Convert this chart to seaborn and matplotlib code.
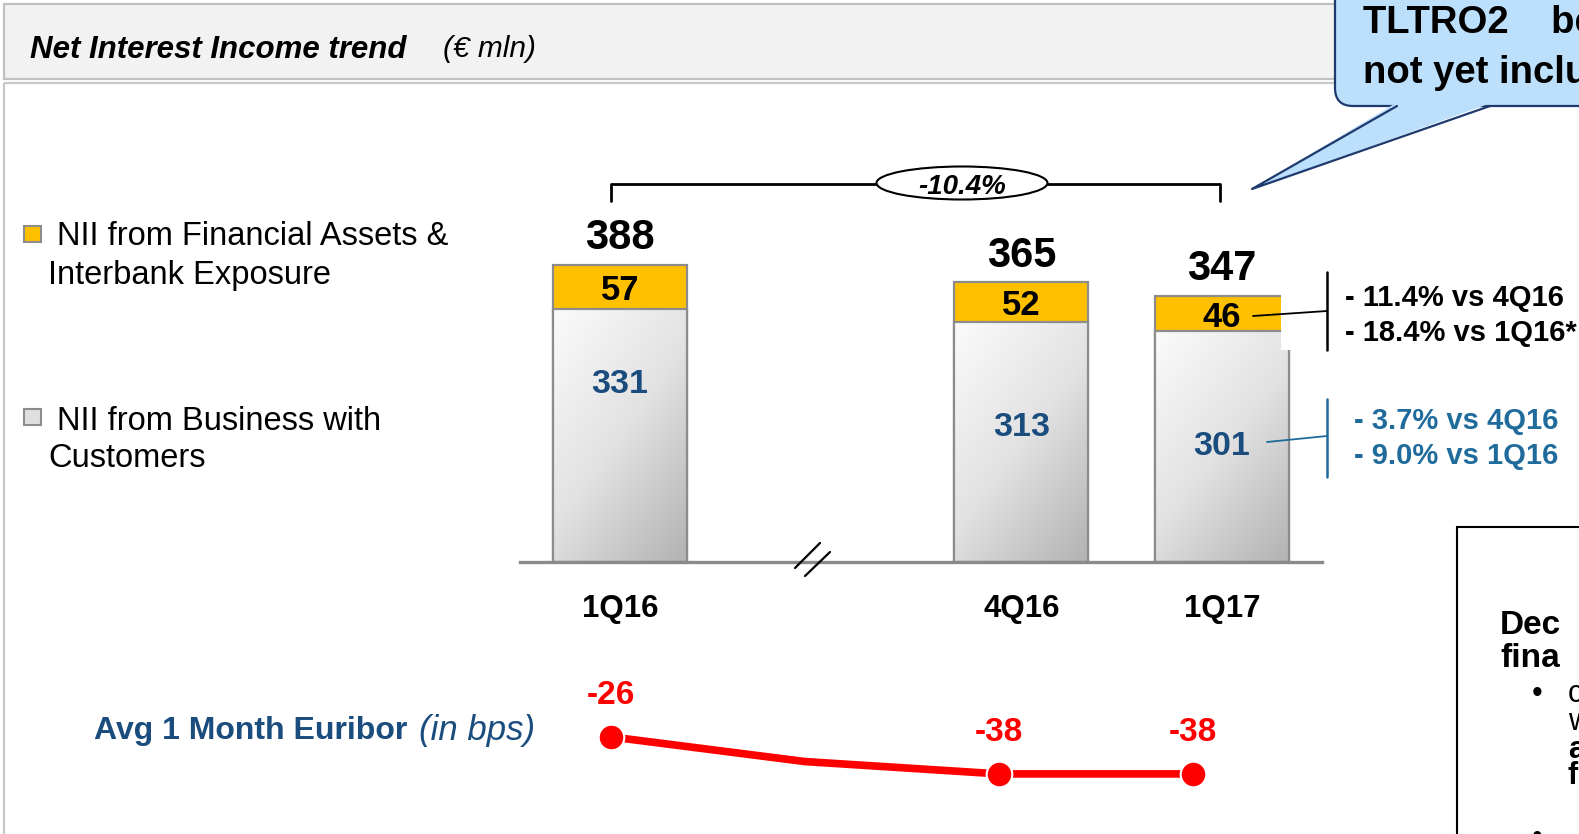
import matplotlib
matplotlib.use("Agg")
import matplotlib.pyplot as plt
from matplotlib.patches import Rectangle, FancyBboxPatch, Ellipse, Polygon
from matplotlib.colors import LinearSegmentedColormap
import numpy as np
import pandas as pd
import seaborn as sns

# bar data (EUR mln)
quarters = ["1Q16", "4Q16", "1Q17"]
quarter_pos = [0, 2, 3]          # 2Q16 / 3Q16 skipped -> gap
nii_financial = [57, 52, 46]
nii_customers = [331, 313, 301]
nii_total = [388, 365, 347]

# avg 1M euribor (bps), middle point has no label
euribor_pos = [0, 1, 2, 3]
euribor_bps = [-26, -34, -38, -38]
euribor_labels = ["-26", "", "-38", "-38"]

total_change = "-10.4%"
fin_changes = ["- 11.4% vs 4Q16", "- 18.4% vs 1Q16*"]
cust_changes = ["- 3.7% vs 4Q16", "- 9.0% vs 1Q16"]

# layout / style
W, H = 1579, 834
YELLOW = "#ffc000"
EDGE = "#8c8c8c"
NAVY = "#1a4c7e"
TEAL = "#1f6c9c"
RED = "#ff0000"
cust_label_y = [236, 180, 155]   # where the inner labels sit inside the grey bars

sns.set_style("white")
plt.rcParams["font.family"] = ["Liberation Sans", "DejaVu Sans"]
plt.rcParams["text.color"] = "black"
plt.rcParams["xtick.labelcolor"] = "black"

fig = plt.figure(figsize=(W / 100, H / 100), dpi=100)


def px_rect(x0, y0, x1, y1):
    # pixel box (origin top-left) -> figure fraction rect
    return [x0 / W, 1 - y1 / H, (x1 - x0) / W, (y1 - y0) / H]


df = pd.DataFrame({"quarter": quarters, "pos": quarter_pos,
                   "financial": nii_financial, "customers": nii_customers,
                   "total": nii_total})

#bars
ax = fig.add_axes(px_rect(520, 150, 1322, 562))
ax.set_facecolor("none")
sns.barplot(data=df, x="pos", y="total", native_scale=True, width=0.668,
            color=YELLOW, saturation=1, edgecolor=EDGE, linewidth=1.6,
            errorbar=None, ax=ax)
sns.barplot(data=df, x="pos", y="customers", native_scale=True, width=0.668,
            color="white", saturation=1, edgecolor=EDGE, linewidth=1.6,
            errorbar=None, ax=ax)

# grey gradient inside the customer bars
grad_cmap = LinearSegmentedColormap.from_list("g", ["#fbfbfb", "#e2e2e2", "#b2b2b2"])
n = 200
ii, jj = np.mgrid[0:n, 0:n] / (n - 1)
grad = (ii * 0.75 + jj * 0.55) / 1.3
for p in ax.patches[len(quarters):]:
    x0, y0 = p.get_x(), p.get_y()
    im = ax.imshow(grad, cmap=grad_cmap, extent=(x0, x0 + p.get_width(), y0, y0 + p.get_height()),
                   aspect="auto", zorder=p.get_zorder() + 0.05, clip_path=p, clip_on=True)
    p.set_facecolor("none")
    p.set_zorder(p.get_zorder() + 0.1)

ax.set_xlim(-0.498, 3.498)
ax.set_ylim(0, 538)
sns.despine(ax=ax, left=True)
ax.spines["bottom"].set_color("#8a8a8a")
ax.spines["bottom"].set_linewidth(2.4)
ax.set_yticks([])
ax.set_xticks(quarter_pos)
ax.set_xticklabels(quarters, fontsize=22.5, fontweight="bold")
ax.tick_params(axis="x", length=0, pad=23)
ax.set_xlabel("")
ax.set_ylabel("")

for x, fin, cust, tot, ly in zip(quarter_pos, nii_financial, nii_customers, nii_total, cust_label_y):
    ax.annotate(str(tot), (x, tot), xytext=(0, 11.5), textcoords="offset points",
                ha="center", va="baseline", fontsize=30, fontweight="bold")
    ax.text(x, cust + fin / 2, str(fin), ha="center", va="center_baseline",
            fontsize=25, fontweight="bold", zorder=5)
    ax.text(x, ly, str(cust), ha="center", va="center_baseline",
            fontsize=24.5, fontweight="bold", color=NAVY, zorder=5)

#euribor line
lx = fig.add_axes(px_rect(514, 690, 1290, 810))
lx.set_facecolor("none")
sns.lineplot(x=euribor_pos, y=euribor_bps, color=RED, linewidth=5.5, ax=lx)
lab_pos = [p for p, l in zip(euribor_pos, euribor_labels) if l]
lab_val = [v for v, l in zip(euribor_bps, euribor_labels) if l]
sns.scatterplot(x=lab_pos, y=lab_val, s=340, color=RED, edgecolor="white",
                linewidth=1.5, zorder=4, ax=lx)
for p, v, l in zip(euribor_pos, euribor_bps, euribor_labels):
    if l:
        lx.annotate(l, (p, v), xytext=(0, 32), textcoords="offset points",
                    ha="center", va="center_baseline", fontsize=24,
                    fontweight="bold", color=RED)
lx.set_xlim(-0.5, 3.5)
lx.set_ylim(-49.7, -10.8)
lx.axis("off")

#overlay in pixel coords
ov = fig.add_axes([0, 0, 1, 1], zorder=5)
ov.set_xlim(0, W)
ov.set_ylim(H, 0)
ov.axis("off")
ov.set_facecolor("none")

# header band and panel frame
ov.add_patch(Rectangle((4, 4), W + 20, 75, facecolor="#f2f2f2", edgecolor="#c0c0c0", lw=1.6, zorder=0))
ov.add_patch(Rectangle((4, 83), W + 20, H, facecolor="none", edgecolor="#c8c8c8", lw=1.6, zorder=0))
ov.text(30, 46, "Net Interest Income trend", fontsize=22.5, fontweight="bold",
        fontstyle="italic", va="center_baseline")
ov.text(443, 46, "(€ mln)", fontsize=21.5, fontstyle="italic", va="center_baseline")

# legend
ov.add_patch(Rectangle((24, 226), 17, 16, facecolor=YELLOW, edgecolor=EDGE, lw=1.5))
ov.add_patch(Rectangle((24, 409), 17, 16, facecolor="#e0e0e0", edgecolor=EDGE, lw=1.5))
ov.text(57, 233, "NII from Financial Assets &", fontsize=23.5, va="center_baseline")
ov.text(48, 272, "Interbank Exposure", fontsize=23.5, va="center_baseline")
ov.text(57, 418, "NII from Business with", fontsize=23.5, va="center_baseline")
ov.text(48, 455, "Customers", fontsize=23.5, va="center_baseline")

# euribor caption
ov.text(94, 727, "Avg 1 Month Euribor", fontsize=23, fontweight="bold", color=NAVY,
        va="center_baseline")
ov.text(419, 727, "(in bps)", fontsize=25, fontstyle="italic", color=NAVY,
        va="center_baseline")

# axis break
ov.plot([795, 820], [568, 543], color="black", lw=1.6)
ov.plot([805, 830], [576, 552], color="black", lw=1.6)

# -10.4% bracket
ov.plot([611, 611, 1220, 1220], [201, 184, 184, 201], color="black", lw=2)
ov.add_patch(Ellipse((962, 183), 171, 33, facecolor="white", edgecolor="black", lw=1.5, zorder=3))
ov.text(962, 184, total_change, ha="center", va="center_baseline", fontsize=20,
        fontweight="bold", fontstyle="italic", zorder=4)

# white patch covering the right edge of the last bar top
ov.add_patch(Rectangle((1281, 290), 22, 60, facecolor="white", edgecolor="none", zorder=2))

# change annotations
ov.plot([1327, 1327], [272, 350], color="black", lw=1.8)
ov.plot([1253, 1327], [316, 311], color="black", lw=1.3)
ov.text(1345, 295, fin_changes[0], fontsize=21, fontweight="bold", va="center_baseline")
ov.text(1345, 330, fin_changes[1], fontsize=21, fontweight="bold", va="center_baseline")
ov.plot([1327, 1327], [399, 477], color=TEAL, lw=1.8)
ov.plot([1267, 1327], [442, 436], color=TEAL, lw=1.3)
ov.text(1354, 418, cust_changes[0], fontsize=21, fontweight="bold", color=TEAL, va="center_baseline")
ov.text(1354, 453, cust_changes[1], fontsize=21, fontweight="bold", color=TEAL, va="center_baseline")

# callout (cut by the right edge)
ov.add_patch(FancyBboxPatch((1335, -60), 400, 166, boxstyle="round,pad=0,rounding_size=18",
                            facecolor="#bcdffb", edgecolor="#1f3a6e", lw=1.6, zorder=3))
ov.add_patch(Polygon([(1396, 103), (1252, 189), (1491, 103)], closed=True,
                     facecolor="#bcdffb", edgecolor="none", zorder=3.1))
ov.plot([1397, 1252, 1490], [106, 189, 106], color="#1f3a6e", lw=1.6, zorder=3.2)
ov.text(1363, 19, "TLTRO2    benefit", fontsize=27.5, fontweight="bold", va="center_baseline", zorder=4)
ov.text(1363, 69, "not yet included", fontsize=27.5, fontweight="bold", va="center_baseline", zorder=4)

# text box bottom right (cut by the edges)
ov.add_patch(Rectangle((1457, 527), 200, 400, facecolor="white", edgecolor="black", lw=1.5, zorder=3))
ov.text(1500, 622, "Dec", fontsize=24, fontweight="bold", va="center_baseline", zorder=4)
ov.text(1500, 655, "fina", fontsize=24, fontweight="bold", va="center_baseline", zorder=4)
ov.text(1532, 690, "•", fontsize=22, va="center_baseline", zorder=4)
ov.text(1568, 690, "c", fontsize=22, va="center_baseline", zorder=4)
ov.text(1568, 718, "w", fontsize=22, va="center_baseline", zorder=4)
ov.text(1568, 746, "a", fontsize=22, fontweight="bold", va="center_baseline", zorder=4)
ov.text(1568, 773, "f", fontsize=22, fontweight="bold", va="center_baseline", zorder=4)
ov.text(1532, 834, "•", fontsize=22, va="center_baseline", zorder=4)

fig.savefig("out.png", dpi=100)
